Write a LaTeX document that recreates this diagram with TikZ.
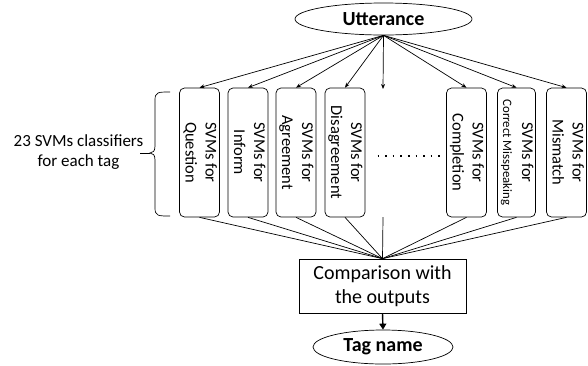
\documentclass[tikz,border=0pt]{standalone}
\usepackage{fontspec}
\setmainfont{Carlito}
\usepackage{graphicx}
\usetikzlibrary{arrows.meta,shapes.geometric}
\tikzset{
  svmbox/.style={draw, rounded corners=5pt, minimum width=38pt, minimum height=129pt, inner sep=0pt, line width=0.7pt},
  oval/.style={draw, ellipse, inner sep=0pt, line width=0.7pt, font=\fontsize{20}{24}\selectfont\bfseries},
  thin/.style={line width=0.7pt},
  arr/.style={thin, -{Stealth[length=5pt,width=4pt]}},
  bigarr/.style={line width=1.4pt, -{Triangle[length=6pt,width=7pt]}},
}
\newcommand{\svmlabel}[2]{\rotatebox{-90}{\fontsize{16.5}{20}\selectfont\begin{tabular}{@{}c@{}}#1\\#2\end{tabular}}}
\newcommand{\svmlabelsmall}[2]{\rotatebox{-90}{\fontsize{16.5}{19}\selectfont\begin{tabular}{@{}c@{}}#1\\\fontsize{12.8}{15}\selectfont #2\end{tabular}}}
\begin{document}
\begin{tikzpicture}[x=1pt,y=-1pt]
\useasboundingbox (0,0) rectangle (588,365);
% top and bottom nodes
\node[oval, minimum width=177pt, minimum height=32pt] (u) at (383.5,19) {Utterance};
\node[draw, thin, minimum width=167pt, minimum height=54pt, inner sep=0pt, align=center,
      font=\fontsize{20}{24}\selectfont] (c) at (382.5,286) {Comparison with\\the outputs};
\node[oval, minimum width=140pt, minimum height=34pt] (t) at (383,347) {Tag name};
% SVM boxes
\node[svmbox] (b1) at (199.5,152.5) {\svmlabel{SVMs for}{Question}};
\node[svmbox] (b2) at (248,152.5) {\svmlabel{SVMs for}{Inform}};
\node[svmbox] (b3) at (296,152.5) {\svmlabel{SVMs for}{Agreement}};
\node[svmbox] (b4) at (345,152.5) {\svmlabel{SVMs for}{Disagreement}};
\node[svmbox] (b5) at (466.5,152.5) {\svmlabel{SVMs for}{Completion}};
\node[svmbox] (b6) at (516.5,152.5) {\svmlabelsmall{SVMs for}{Correct Misspeaking}};
\node[svmbox] (b7) at (566.5,152.5) {\svmlabel{SVMs for}{Mismatch}};
% middle placeholders
\coordinate (mtop) at (383,89);
\coordinate (mbot) at (383,217);
\coordinate (d1) at (377.5,156);
\coordinate (d2) at (440,156);
\draw[line width=1.7pt, dash pattern=on 1.7pt off 5.9pt] (d1) -- (d2);
% arrows from utterance
\foreach \b in {b1,b2,b3,b4,b5,b6,b7} {
  \draw[arr] (u.south) -- (\b.north);
  \draw[thin] (\b.south) -- (c.north);
}
\draw[arr] (u.south) -- (mtop);
\draw[thin] (mbot) -- (c.north);
\draw[bigarr] (c.south) -- (t.north);
% brace and label
\draw[thin] (170,92) .. controls (158,92) and (155,92) .. (155,100) -- (155,146)
  .. controls (155,151) and (153,153) .. (150,153)
  .. controls (153,153) and (155,155) .. (155,160) -- (155,208)
  .. controls (155,216) and (158,216) .. (170,216);
\coordinate (bt) at (150,153);
\coordinate (bl) at (140,153);
\draw[thin] (bt) -- (bl);
\node[align=center, font=\fontsize{17}{19.5}\selectfont] (lab) at (78.5,152) {23 SVMs classifiers\\for each tag};
\end{tikzpicture}
\end{document}
